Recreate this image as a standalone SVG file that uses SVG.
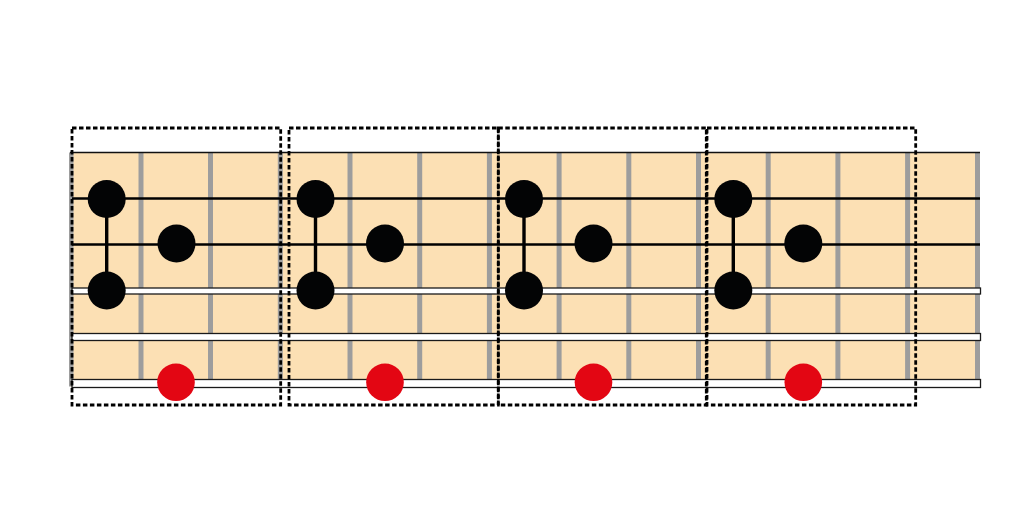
<svg xmlns="http://www.w3.org/2000/svg" width="1024" height="512" viewBox="0 0 1024 512">
<style>
.fret{fill:#9d9d9d}
.str{stroke:#000;stroke-width:2.6;fill:none}
.bar{fill:#fff;stroke:#1a1a1a;stroke-width:1.3}
.box{fill:none;stroke:#000;stroke-width:2.8;stroke-dasharray:4.5 2.5}
.dot{fill:#030405}
.root{fill:#e30613}
.link{stroke:#000;stroke-width:3.4}
</style>
<rect width="1024" height="512" fill="#fff"/>
<g id="fretboard">
<rect x="70" y="152.5" width="910" height="234" fill="#fce0b4"/>
<rect class="fret" x="69" y="152.5" width="4.5" height="234"/>
<rect class="fret" x="138.5" y="152.5" width="5" height="234"/>
<rect class="fret" x="208" y="152.5" width="5" height="234"/>
<rect class="fret" x="277.8" y="152.5" width="5" height="234"/>
<rect class="fret" x="347.5" y="152.5" width="5" height="234"/>
<rect class="fret" x="417.2" y="152.5" width="5" height="234"/>
<rect class="fret" x="486.9" y="152.5" width="5" height="234"/>
<rect class="fret" x="556.6" y="152.5" width="5" height="234"/>
<rect class="fret" x="626.3" y="152.5" width="5" height="234"/>
<rect class="fret" x="696" y="152.5" width="5" height="234"/>
<rect class="fret" x="765.7" y="152.5" width="5" height="234"/>
<rect class="fret" x="835.4" y="152.5" width="5" height="234"/>
<rect class="fret" x="905.1" y="152.5" width="5" height="234"/>
<rect class="fret" x="975" y="152.5" width="5" height="234"/>
<line x1="70" y1="152.5" x2="980" y2="152.5" stroke="#111" stroke-width="1.6"/>
</g>
<g id="strings">
<line class="str" x1="72" y1="198.5" x2="980" y2="198.5"/>
<line class="str" x1="72" y1="244.5" x2="980" y2="244.5"/>
<rect class="bar" x="72" y="288" width="908.5" height="6"/>
<rect class="bar" x="72" y="333.5" width="908.5" height="7"/>
<rect class="bar" x="72" y="379.5" width="908.5" height="8"/>
</g>
<g id="boxes">
<rect class="box" x="72" y="128" width="208.7" height="277"/>
<rect class="box" x="289" y="128" width="209.3" height="277"/>
<rect class="box" x="498.3" y="128" width="208" height="277"/>
<rect class="box" x="707" y="128" width="208.7" height="277"/>
</g>
<g id="connectors">
<line class="link" x1="106.7" y1="199" x2="106.7" y2="290"/>
<line class="link" x1="315.5" y1="199" x2="315.5" y2="290"/>
<line class="link" x1="524" y1="199" x2="524" y2="290"/>
<line class="link" x1="733.3" y1="199" x2="733.3" y2="290"/>
</g>
<g id="shape1">
<circle class="dot" cx="106.7" cy="199" r="19"/>
<circle class="dot" cx="176.5" cy="243.5" r="19"/>
<circle class="dot" cx="106.7" cy="290.5" r="19"/>
<circle class="root" cx="176" cy="382.3" r="18.8"/>
</g>
<g id="shape2">
<circle class="dot" cx="315.5" cy="199" r="19"/>
<circle class="dot" cx="385" cy="243.5" r="19"/>
<circle class="dot" cx="315.5" cy="290.5" r="19"/>
<circle class="root" cx="385" cy="382.3" r="18.8"/>
</g>
<g id="shape3">
<circle class="dot" cx="524" cy="199" r="19"/>
<circle class="dot" cx="593.5" cy="243.5" r="19"/>
<circle class="dot" cx="524" cy="290.5" r="19"/>
<circle class="root" cx="593.5" cy="382.3" r="18.8"/>
</g>
<g id="shape4">
<circle class="dot" cx="733.3" cy="199" r="19"/>
<circle class="dot" cx="803.3" cy="243.5" r="19"/>
<circle class="dot" cx="733.3" cy="290.5" r="19"/>
<circle class="root" cx="803.3" cy="382.3" r="18.8"/>
</g>
</svg>
